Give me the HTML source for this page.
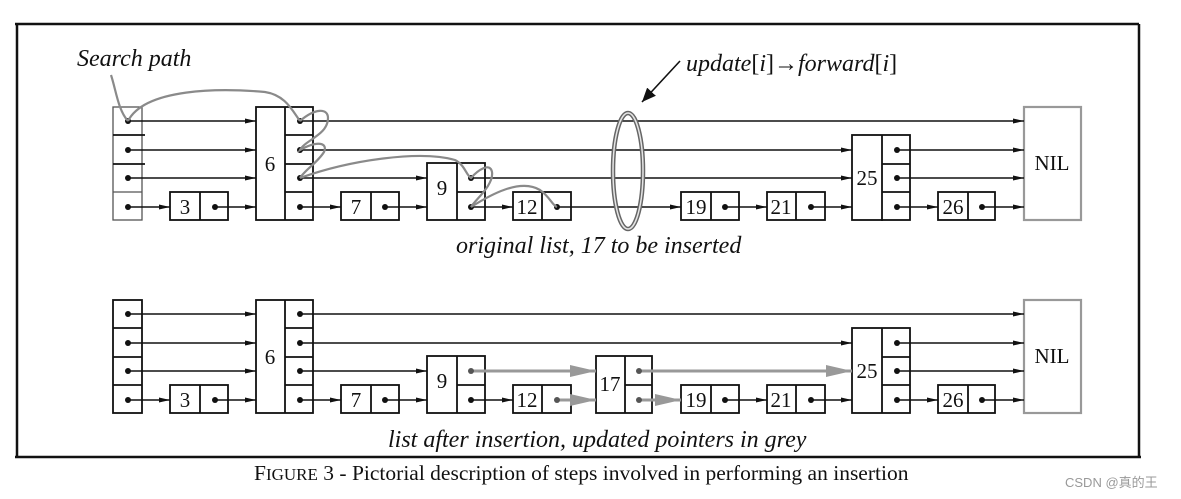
<!DOCTYPE html>
<html><head><meta charset="utf-8"><style>
html,body{margin:0;padding:0;background:#fff;}
svg{display:block;}
text{font-family:"Liberation Serif",serif;fill:#111;}
.n{font-size:21px;text-anchor:middle;}
.it{font-style:italic;font-size:24px;}
</style></head><body>
<svg width="1181" height="499" viewBox="0 0 1181 499" xmlns="http://www.w3.org/2000/svg">
<defs>
<marker id="a" markerWidth="11" markerHeight="7" refX="11" refY="3.5" orient="auto" markerUnits="userSpaceOnUse"><path d="M0,1 L11,3.5 L0,6z" fill="#111"/></marker>
<marker id="g" markerWidth="26" markerHeight="12" refX="26" refY="6" orient="auto" markerUnits="userSpaceOnUse"><path d="M0,0 L26,6 L0,12z" fill="#999"/></marker>
<marker id="b" markerWidth="14" markerHeight="12" refX="14" refY="6" orient="auto" markerUnits="userSpaceOnUse"><path d="M0,0 L14,6 L0,12z" fill="#111"/></marker>
<g id="dot"><circle r="3" fill="#111"/></g>
</defs>
<g stroke="#111" stroke-width="2.5" fill="none">
<line x1="15" y1="24" x2="1139" y2="24"/>
<line x1="17" y1="24" x2="17" y2="457"/>
<line x1="1139" y1="24" x2="1139" y2="457"/>
<line x1="15" y1="457" x2="1141" y2="457"/>
</g>

<g stroke="#111" stroke-width="1.8" fill="none">
<rect x="113" y="107" width="29" height="113" stroke="#555" stroke-width="1.3"/>
<line x1="113" y1="135" x2="145" y2="135"/><line x1="113" y1="164" x2="145" y2="164"/><line x1="113" y1="192" x2="142" y2="192" stroke="#555" stroke-width="1.3"/>
<rect x="170" y="192" width="58" height="28"/><line x1="200" y1="192" x2="200" y2="220"/>
<rect x="256" y="107" width="57" height="113"/><line x1="285" y1="107" x2="285" y2="220"/>
<line x1="285" y1="135" x2="313" y2="135"/><line x1="285" y1="164" x2="313" y2="164"/><line x1="285" y1="192" x2="313" y2="192"/>
<rect x="341" y="192" width="58" height="28"/><line x1="371" y1="192" x2="371" y2="220"/>
<rect x="427" y="163" width="58" height="57"/><line x1="457" y1="163" x2="457" y2="220"/><line x1="457" y1="192" x2="485" y2="192"/>
<rect x="513" y="192" width="58" height="28"/><line x1="542" y1="192" x2="542" y2="220"/>
<rect x="681" y="192" width="58" height="28"/><line x1="711" y1="192" x2="711" y2="220"/>
<rect x="767" y="192" width="58" height="28"/><line x1="796" y1="192" x2="796" y2="220"/>
<rect x="852" y="135" width="58" height="85"/><line x1="882" y1="135" x2="882" y2="221"/>
<line x1="882" y1="164" x2="910" y2="164"/><line x1="882" y1="192" x2="910" y2="192"/>
<rect x="938" y="192" width="57" height="28"/><line x1="968" y1="192" x2="968" y2="220"/>
<rect x="1024" y="107" width="57" height="113" stroke="#999" stroke-width="2.2"/>
</g>
<g stroke="#111" stroke-width="1.6" marker-end="url(#a)">
<line x1="128" y1="121" x2="256" y2="121"/>
<line x1="128" y1="150" x2="256" y2="150"/>
<line x1="128" y1="178" x2="256" y2="178"/>
<line x1="128" y1="207" x2="170" y2="207"/>
<line x1="215" y1="207" x2="256" y2="207"/>
<line x1="300" y1="121" x2="1024" y2="121"/>
<line x1="300" y1="150" x2="852" y2="150"/>
<line x1="300" y1="178" x2="427" y2="178"/>
<line x1="300" y1="207" x2="341" y2="207"/>
<line x1="385" y1="207" x2="427" y2="207"/>
<line x1="471" y1="178" x2="852" y2="178"/>
<line x1="471" y1="207" x2="513" y2="207"/>
<line x1="557" y1="207" x2="681" y2="207"/>
<line x1="725" y1="207" x2="767" y2="207"/>
<line x1="811" y1="207" x2="852" y2="207"/>
<line x1="897" y1="150" x2="1024" y2="150"/>
<line x1="897" y1="178" x2="1024" y2="178"/>
<line x1="897" y1="207" x2="938" y2="207"/>
<line x1="982" y1="207" x2="1024" y2="207"/>
</g>
<g>
<use href="#dot" x="128" y="121"/><use href="#dot" x="128" y="150"/><use href="#dot" x="128" y="178"/><use href="#dot" x="128" y="207"/>
<use href="#dot" x="215" y="207"/>
<use href="#dot" x="300" y="121"/><use href="#dot" x="300" y="150"/><use href="#dot" x="300" y="178"/><use href="#dot" x="300" y="207"/>
<use href="#dot" x="385" y="207"/>
<use href="#dot" x="471" y="178"/><use href="#dot" x="471" y="207"/>
<use href="#dot" x="557" y="207"/><use href="#dot" x="725" y="207"/><use href="#dot" x="811" y="207"/>
<use href="#dot" x="897" y="150"/><use href="#dot" x="897" y="178"/><use href="#dot" x="897" y="207"/>
<use href="#dot" x="982" y="207"/>
</g>
<g stroke="#8a8a8a" stroke-width="2.2" fill="none">
<path d="M111,75 C116,90 118,110 128,121"/>
<path d="M128,121 C145,88 220,88 265,92 C285,95 292,110 300,121"/>
<path d="M300,121 C315,108 328,108 328,118 C328,135 305,140 300,150 C318,140 328,143 324,152 C318,162 305,170 300,178"/>
<path d="M300,178 C350,160 420,150 455,160 C465,165 466,175 471,178 C478,170 490,162 492,172 C494,185 475,200 471,207"/>
<path d="M471,207 C490,195 520,178 540,190 C550,197 552,205 557,207"/>
</g>
<g fill="none">
<ellipse cx="628" cy="171" rx="15" ry="58" stroke="#666" stroke-width="4.5"/>
<ellipse cx="628" cy="171" rx="15" ry="58" stroke="#e5e5e5" stroke-width="1.5"/>
</g>
<line x1="680" y1="61" x2="642" y2="102" stroke="#111" stroke-width="1.6" marker-end="url(#b)"/>

<text class="n" x="185" y="214">3</text>
<text class="n" x="270" y="171">6</text>
<text class="n" x="356" y="214">7</text>
<text class="n" x="442" y="195">9</text>
<text class="n" x="527" y="214">12</text>
<text class="n" x="696" y="214">19</text>
<text class="n" x="781" y="214">21</text>
<text class="n" x="867" y="185">25</text>
<text class="n" x="953" y="214">26</text>
<text class="n" x="1052" y="170">NIL</text>
<text class="it" x="77" y="66">Search path</text>
<text x="686" y="71" style="font-size:24px"><tspan font-style="italic">update</tspan>[<tspan font-style="italic">i</tspan>]→<tspan font-style="italic">forward</tspan>[<tspan font-style="italic">i</tspan>]</text>
<text class="it" x="456" y="253">original list, 17 to be inserted</text>

<g transform="translate(0,193)">
<g stroke="#111" stroke-width="1.8" fill="none">
<rect x="113" y="107" width="29" height="113"/>
<line x1="113" y1="135" x2="142" y2="135"/><line x1="113" y1="164" x2="142" y2="164"/><line x1="113" y1="192" x2="142" y2="192"/>
<rect x="170" y="192" width="58" height="28"/><line x1="200" y1="192" x2="200" y2="220"/>
<rect x="256" y="107" width="57" height="113"/><line x1="285" y1="107" x2="285" y2="220"/>
<line x1="285" y1="135" x2="313" y2="135"/><line x1="285" y1="164" x2="313" y2="164"/><line x1="285" y1="192" x2="313" y2="192"/>
<rect x="341" y="192" width="58" height="28"/><line x1="371" y1="192" x2="371" y2="220"/>
<rect x="427" y="163" width="58" height="57"/><line x1="457" y1="163" x2="457" y2="220"/><line x1="457" y1="192" x2="485" y2="192"/>
<rect x="513" y="192" width="58" height="28"/><line x1="542" y1="192" x2="542" y2="220"/>
<rect x="596" y="163" width="56" height="57"/><line x1="625" y1="163" x2="625" y2="220"/><line x1="625" y1="192" x2="652" y2="192"/>
<rect x="681" y="192" width="58" height="28"/><line x1="711" y1="192" x2="711" y2="220"/>
<rect x="767" y="192" width="58" height="28"/><line x1="796" y1="192" x2="796" y2="220"/>
<rect x="852" y="135" width="58" height="85"/><line x1="882" y1="135" x2="882" y2="220"/>
<line x1="882" y1="164" x2="910" y2="164"/><line x1="882" y1="192" x2="910" y2="192"/>
<rect x="938" y="192" width="57" height="28"/><line x1="968" y1="192" x2="968" y2="220"/>
<rect x="1024" y="107" width="57" height="113" stroke="#999" stroke-width="2.2"/>
</g>
<g stroke="#111" stroke-width="1.6" marker-end="url(#a)">
<line x1="128" y1="121" x2="256" y2="121"/>
<line x1="128" y1="150" x2="256" y2="150"/>
<line x1="128" y1="178" x2="256" y2="178"/>
<line x1="128" y1="207" x2="170" y2="207"/>
<line x1="215" y1="207" x2="256" y2="207"/>
<line x1="300" y1="121" x2="1024" y2="121"/>
<line x1="300" y1="150" x2="852" y2="150"/>
<line x1="300" y1="178" x2="427" y2="178"/>
<line x1="300" y1="207" x2="341" y2="207"/>
<line x1="385" y1="207" x2="427" y2="207"/>
<line x1="471" y1="207" x2="513" y2="207"/>
<line x1="725" y1="207" x2="767" y2="207"/>
<line x1="811" y1="207" x2="852" y2="207"/>
<line x1="897" y1="150" x2="1024" y2="150"/>
<line x1="897" y1="178" x2="1024" y2="178"/>
<line x1="897" y1="207" x2="938" y2="207"/>
<line x1="982" y1="207" x2="1024" y2="207"/>
</g>
<g stroke="#999" stroke-width="3" marker-end="url(#g)">
<line x1="471" y1="178" x2="596" y2="178"/>
<line x1="557" y1="207" x2="596" y2="207"/>
<line x1="639" y1="178" x2="852" y2="178"/>
<line x1="639" y1="207" x2="681" y2="207"/>
</g>
<g>
<use href="#dot" x="128" y="121"/><use href="#dot" x="128" y="150"/><use href="#dot" x="128" y="178"/><use href="#dot" x="128" y="207"/>
<use href="#dot" x="215" y="207"/>
<use href="#dot" x="300" y="121"/><use href="#dot" x="300" y="150"/><use href="#dot" x="300" y="178"/><use href="#dot" x="300" y="207"/>
<use href="#dot" x="385" y="207"/>
<use href="#dot" x="471" y="207"/>
<use href="#dot" x="725" y="207"/><use href="#dot" x="811" y="207"/>
<use href="#dot" x="897" y="150"/><use href="#dot" x="897" y="178"/><use href="#dot" x="897" y="207"/>
<use href="#dot" x="982" y="207"/>
<circle cx="471" cy="178" r="3" fill="#555"/><circle cx="557" cy="207" r="3" fill="#555"/>
<circle cx="639" cy="178" r="3" fill="#555"/><circle cx="639" cy="207" r="3" fill="#555"/>
</g>
<text class="n" x="185" y="214">3</text>
<text class="n" x="270" y="171">6</text>
<text class="n" x="356" y="214">7</text>
<text class="n" x="442" y="195">9</text>
<text class="n" x="527" y="214">12</text>
<text class="n" x="610" y="198">17</text>
<text class="n" x="696" y="214">19</text>
<text class="n" x="781" y="214">21</text>
<text class="n" x="867" y="185">25</text>
<text class="n" x="953" y="214">26</text>
<text class="n" x="1052" y="170">NIL</text>
</g>
<text class="it" x="388" y="447">list after insertion, updated pointers in grey</text>
<text x="254" y="480" style="font-size:21.5px">F<tspan style="font-size:17px">IGURE</tspan> 3 - Pictorial description of steps involved in performing an insertion</text>
<text x="1065" y="487" style="font-family:'Liberation Sans','Noto Sans CJK SC',sans-serif;font-size:13px;fill:#999">CSDN @真的王</text>
</svg>
</body></html>
